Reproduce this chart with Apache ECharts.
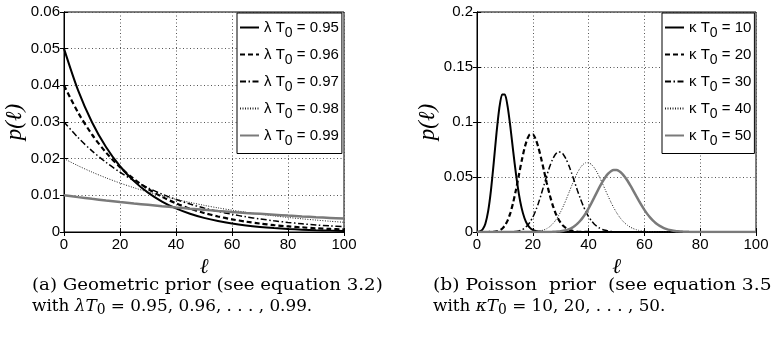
<!DOCTYPE html>
<html><head><meta charset="utf-8">
<script src="https://cdn.jsdelivr.net/npm/echarts@6/dist/echarts.min.js"></script>
<style>html,body{margin:0;padding:0;background:#fff}#c{width:772px;height:341px}</style>
</head><body><div id="c"></div>
<script>
// ---- Geometric prior (left) ----
const geoX = [0,5,10,15,20,25,30,35,40,45,50,55,60,65,70,75,80,85,90,95,100];
const geoLabels = ['0.95','0.96','0.97','0.98','0.99'];
const geo095 = [0.05,0.03869,0.02994,0.02317,0.01793,0.01387,0.01073,0.00831,0.00643,0.00497,0.00385,0.00298,0.00230,0.00178,0.00138,0.00107,0.00083,0.00064,0.00049,0.00038,0.00030];
const geo096 = [0.04,0.03262,0.02659,0.02169,0.01768,0.01442,0.01176,0.00959,0.00782,0.00637,0.00520,0.00424,0.00346,0.00282,0.00230,0.00187,0.00153,0.00125,0.00102,0.00083,0.00068];
const geo097 = [0.03,0.02576,0.02212,0.01900,0.01631,0.01401,0.01203,0.01033,0.00887,0.00762,0.00654,0.00562,0.00482,0.00414,0.00356,0.00305,0.00262,0.00225,0.00193,0.00166,0.00143];
const geo098 = [0.02,0.01808,0.01634,0.01477,0.01335,0.01207,0.01091,0.00986,0.00891,0.00806,0.00728,0.00658,0.00595,0.00538,0.00486,0.00440,0.00397,0.00359,0.00325,0.00293,0.00265];
const geo099 = [0.01,0.00951,0.00904,0.00860,0.00818,0.00778,0.00740,0.00703,0.00669,0.00636,0.00605,0.00575,0.00547,0.00520,0.00495,0.00471,0.00448,0.00426,0.00405,0.00385,0.00366];

// ---- Poisson prior (right), l = 0..100 ----
const poisX = [
  0,1,2,3,4,5,6,7,8,9, 10,11,12,13,14,15,16,17,18,19, 20,21,22,23,24,25,26,27,28,29,
  30,31,32,33,34,35,36,37,38,39, 40,41,42,43,44,45,46,47,48,49, 50,51,52,53,54,55,56,57,58,59,
  60,61,62,63,64,65,66,67,68,69, 70,71,72,73,74,75,76,77,78,79, 80,81,82,83,84,85,86,87,88,89,
  90,91,92,93,94,95,96,97,98,99, 100];
const poisLabels = ['10','20','30','40','50'];
const pois10 = [
  0.00005,0.00045,0.00227,0.00757,0.01892,0.03783,0.06306,0.09008,0.11260,0.12511,
  0.12511,0.11374,0.09478,0.07291,0.05208,0.03472,0.02170,0.01276,0.00709,0.00373,
  0.00187,0.00089,0.00040,0.00018,0.00007,0.00003,0.00001,0,0,0,
  0,0,0,0,0,0,0,0,0,0, 0,0,0,0,0,0,0,0,0,0, 0,0,0,0,0,0,0,0,0,0,
  0,0,0,0,0,0,0,0,0,0, 0,0,0,0,0,0,0,0,0,0, 0,0,0,0,0,0,0,0,0,0,
  0,0,0,0,0,0,0,0,0,0, 0];
const pois20 = [
  0,0,0,0,0.00001,0.00005,0.00018,0.00052,0.00131,0.00291,
  0.00582,0.01058,0.01763,0.02712,0.03874,0.05165,0.06457,0.07596,0.08440,0.08884,
  0.08884,0.08461,0.07692,0.06689,0.05574,0.04459,0.03430,0.02541,0.01815,0.01252,
  0.00834,0.00538,0.00336,0.00204,0.00120,0.00069,0.00038,0.00021,0.00011,0.00006,
  0.00003,0.00001,0,0,0,0,0,0,0,0,
  0,0,0,0,0,0,0,0,0,0, 0,0,0,0,0,0,0,0,0,0, 0,0,0,0,0,0,0,0,0,0,
  0,0,0,0,0,0,0,0,0,0, 0,0,0,0,0,0,0,0,0,0, 0];
const pois30 = [
  0,0,0,0,0,0,0,0,0,0.00001,
  0.00002,0.00005,0.00011,0.00024,0.00052,0.00103,0.00193,0.00340,0.00566,0.00894,
  0.01341,0.01916,0.02613,0.03408,0.04260,0.05112,0.05898,0.06553,0.07021,0.07263,
  0.07263,0.07029,0.06590,0.05991,0.05286,0.04531,0.03776,0.03061,0.02417,0.01859,
  0.01394,0.01020,0.00729,0.00509,0.00347,0.00231,0.00151,0.00096,0.00060,0.00037,
  0.00022,0.00013,0.00007,0.00004,0.00002,0.00001,0,0,0,0,
  0,0,0,0,0,0,0,0,0,0, 0,0,0,0,0,0,0,0,0,0, 0,0,0,0,0,0,0,0,0,0,
  0,0,0,0,0,0,0,0,0,0, 0];
const pois40 = [
  0,0,0,0,0,0,0,0,0,0,
  0,0,0,0,0,0,0.00001,0.00002,0.00004,0.00009,
  0.00019,0.00037,0.00067,0.00116,0.00193,0.00308,0.00474,0.00703,0.01004,0.01385,
  0.01847,0.02383,0.02978,0.03610,0.04247,0.04854,0.05393,0.05831,0.06138,0.06295,
  0.06295,0.06141,0.05849,0.05441,0.04946,0.04397,0.03823,0.03254,0.02712,0.02214,
  0.01771,0.01389,0.01068,0.00806,0.00597,0.00434,0.00310,0.00218,0.00150,0.00102,
  0.00068,0.00045,0.00029,0.00018,0.00012,0.00007,0.00004,0.00003,0.00002,0.00001,
  0,0,0,0,0,0,0,0,0,0, 0,0,0,0,0,0,0,0,0,0, 0,0,0,0,0,0,0,0,0,0, 0];
const pois50 = [
  0,0,0,0,0,0,0,0,0,0,
  0,0,0,0,0,0,0,0,0,0,
  0,0,0,0,0.00002,0.00004,0.00008,0.00014,0.00024,0.00041,
  0.00068,0.00110,0.00171,0.00259,0.00380,0.00543,0.00755,0.01020,0.01342,0.01720,
  0.02150,0.02622,0.03121,0.03629,0.04124,0.04583,0.04981,0.05299,0.05520,0.05633,
  0.05633,0.05523,0.05311,0.05010,0.04639,0.04217,0.03765,0.03303,0.02847,0.02413,
  0.02011,0.01648,0.01329,0.01055,0.00824,0.00634,0.00480,0.00358,0.00264,0.00191,
  0.00136,0.00096,0.00066,0.00045,0.00030,0.00020,0.00013,0.00009,0.00005,0.00003,
  0.00002,0,0,0,0,0,0,0,0,0, 0,0,0,0,0,0,0,0,0,0, 0];

const styles = [
  {color:'#000', width:2, type:'solid'},
  {color:'#000', width:2.2, type:[5,3]},
  {color:'#000', width:1.5, type:[6,2.5,1.5,2.5]},
  {color:'#222', width:1, type:[1,1.5]},
  {color:'#7a7a7a', width:2.5, type:'solid'}
];

const SANS = 'Liberation Sans';
const SERIF = 'Liberation Serif';
const CAP = 'DejaVu Serif';

function pairs(xs, ys){ return xs.map((x,i)=>[x, ys[i]]); }

function axesFor(grid, ymax, yint){
  const common = {gridIndex:grid, type:'value'};
  const tick = {show:true, inside:true, length:4, lineStyle:{color:'#000'}};
  const line = {show:true, lineStyle:{color:'#000', width:1}};
  const xa = [
    Object.assign({}, common, {min:0,max:100,interval:20,position:'bottom',
      name:'ℓ', nameLocation:'middle', nameGap:18,
      nameTextStyle:{fontFamily:SERIF, fontStyle:'italic', fontSize:21, color:'#000'},
      axisLine:line, axisTick:tick,
      axisLabel:{fontFamily:SANS, fontSize:15, color:'#000', margin:5},
      splitLine:{show:true, lineStyle:{color:'#555', width:1, type:[1,2.5]}}}),
    Object.assign({}, common, {min:0,max:100,interval:20,position:'top',
      axisLine:line, axisTick:tick, axisLabel:{show:false}, splitLine:{show:false}})
  ];
  const ya = [
    Object.assign({}, common, {min:0,max:ymax,interval:yint,position:'left',
      name:'p(ℓ)', nameLocation:'middle', nameGap:34, nameRotate:90,
      nameTextStyle:{fontFamily:SERIF, fontStyle:'italic', fontSize:23, color:'#000'},
      axisLine:line, axisTick:tick,
      axisLabel:{fontFamily:SANS, fontSize:15, color:'#000', margin:4},
      splitLine:{show:true, lineStyle:{color:'#555', width:1, type:[1,2.5]}}}),
    Object.assign({}, common, {min:0,max:ymax,interval:yint,position:'right',
      axisLine:line, axisTick:tick, axisLabel:{show:false}, splitLine:{show:false}})
  ];
  return {xa, ya};
}

const A = axesFor(0, 0.06, 0.01);
const B = axesFor(1, 0.2, 0.05);

const geoData = [geo095, geo096, geo097, geo098, geo099];
const poisData = [pois10, pois20, pois30, pois40, pois50];
const geoNames = geoLabels.map(v=>'λ T0 = '+v);
const poisNames = poisLabels.map(v=>'κ T0 = '+v);

const series = [];
geoData.forEach((d,i)=>series.push({name:geoNames[i], type:'line', xAxisIndex:0, yAxisIndex:0,
  data:pairs(geoX,d), symbol:'none', smooth:0.3, lineStyle:styles[i], itemStyle:{color:styles[i].color}}));
poisData.forEach((d,i)=>series.push({name:poisNames[i], type:'line', xAxisIndex:2, yAxisIndex:2,
  data:pairs(poisX,d), symbol:'none', smooth:0.2, lineStyle:styles[i], itemStyle:{color:styles[i].color}}));

const rich = {
  g:{fontFamily:SANS, fontSize:15, color:'#000', lineHeight:26},
  s:{fontFamily:SANS, fontSize:14, color:'#000', lineHeight:10, verticalAlign:'bottom'}
};
function legFmt(name){
  const sym = name.charAt(0);
  const val = name.split('= ')[1];
  return '{g|'+sym+' T}{s|0}{g| = '+val+'}';
}
const legendBase = {
  orient:'vertical', itemWidth:19, itemHeight:10, itemGap:6.5,
  padding:[7,3,5,2], backgroundColor:'#fff', borderColor:'#000', borderWidth:1, borderRadius:0,
  itemStyle:{color:'rgba(0,0,0,0)', borderWidth:0, opacity:0},
  textStyle:{rich:rich}, formatter:legFmt, selectedMode:false
};

const capRich = {
  r:{fontFamily:CAP, fontSize:17, color:'#000', lineHeight:21},
  i:{fontFamily:CAP, fontSize:17, fontStyle:'italic', color:'#000', lineHeight:21},
  s:{fontFamily:CAP, fontSize:14, color:'#000', lineHeight:8, verticalAlign:'bottom'}
};

const option = {
  animation:false,
  backgroundColor:'#fff',
  grid:[
    {left:64, top:12, width:280, height:220, show:true, borderColor:'#000', borderWidth:1, backgroundColor:'transparent'},
    {left:477, top:12, width:279, height:220, show:true, borderColor:'#000', borderWidth:1, backgroundColor:'transparent'}
  ],
  xAxis:[A.xa[0], A.xa[1], B.xa[0], B.xa[1]].map((a,k)=>Object.assign(a,{gridIndex:k<2?0:1})),
  yAxis:[A.ya[0], A.ya[1], B.ya[0], B.ya[1]].map((a,k)=>Object.assign(a,{gridIndex:k<2?0:1})),
  legend:[
    Object.assign({}, legendBase, {data:geoNames, left:237, top:13}),
    Object.assign({}, legendBase, {data:poisNames, left:662, top:13})
  ],
  series:series,
  graphic:[
    {type:'text', x:32, y:286, scaleX:1.07, style:{text:'{r|(a) Geometric prior (see equation 3.2)}', rich:capRich, verticalAlign:'middle'}},
    {type:'text', x:32, y:307, scaleX:0.99, style:{text:'{r|with }{i|λT}{s|0}{r| = 0.95, 0.96, . . . , 0.99.}', rich:capRich, verticalAlign:'middle'}},
    {type:'text', x:433, y:286, scaleX:1.10, style:{text:'{r|(b) Poisson  prior  (see equation 3.5}', rich:capRich, verticalAlign:'middle'}},
    {type:'text', x:433, y:307, scaleX:0.99, style:{text:'{r|with }{i|κT}{s|0}{r| = 10, 20, . . . , 50.}', rich:capRich, verticalAlign:'middle'}}
  ]
};
const chart = echarts.init(document.getElementById('c'), null, {renderer:'canvas'});
chart.setOption(option);
</script></body></html>
